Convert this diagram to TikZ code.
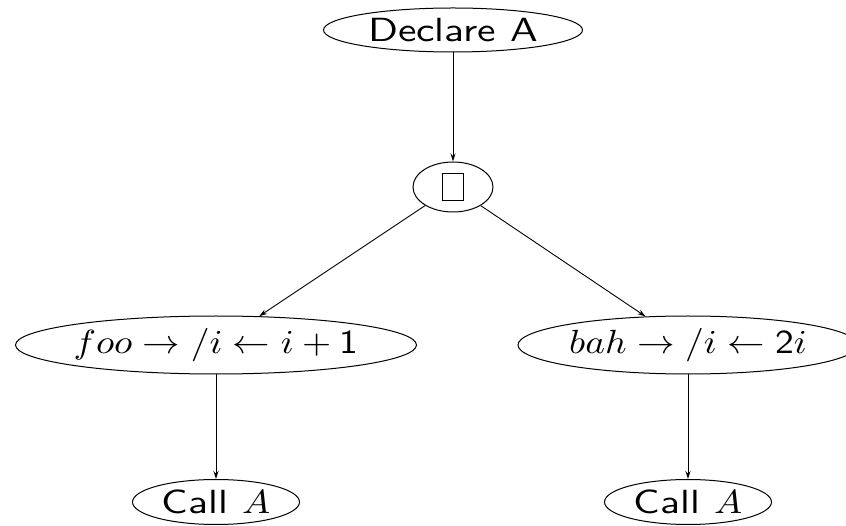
\documentclass[tikz,border=0pt]{standalone}
\usepackage{amsmath,amssymb}
\usepackage{graphicx}
\usetikzlibrary{shapes.geometric,arrows.meta}
\newcommand{\tofubox}{{\setlength{\fboxsep}{0pt}\setlength{\fboxrule}{1.3pt}\fbox{\rule{0pt}{26pt}\hspace{20pt}}}}
\newcommand{\sanspart}[1]{\scalebox{4.15}[3.35]{\sffamily #1}}
\newcommand{\mathpart}[1]{\scalebox{3.75}[3.35]{$#1$}}
\newcommand{\statetext}[1]{\makebox[0pt]{#1}}
\tikzset{
  state/.style={
    shape = ellipse,
    draw,
    line width = 1pt,
    inner sep = 0pt
  },
  flow/.style={
    -{Stealth[length=8pt,width=5pt]},
    line width = 0.9pt
  }
}
\begin{document}
\begin{tikzpicture}[x=1pt,y=-1pt]
            \useasboundingbox (0,0) rectangle (846,526);
            \clip (0,0) rectangle (846,526);
            \node[state, minimum width=259, minimum height=44] (decl) at (453,30) {\statetext{\sanspart{Declare A}}};
            \node[state, minimum width=80, minimum height=50] (choice) at (453,187) {\tofubox};
            \node[state, minimum width=401, minimum height=58] (foo) at (216,345) {\statetext{\mathpart{foo \rightarrow /i \leftarrow i \mathbin{\textsf{+}} \textsf{1}}}};
            \node[state, minimum width=340, minimum height=58] (bah) at (688,345) {\statetext{\mathpart{bah \rightarrow /i \leftarrow \textsf{2}i}}};
            \node[state, minimum width=167, minimum height=45] (callfoo) at (216,502) {\statetext{\sanspart{Call\ }\mathpart{A}}};
            \node[state, minimum width=167, minimum height=45] (callbah) at (688,502) {\statetext{\sanspart{Call\ }\mathpart{A}}};
            \draw[flow] (decl)--(choice);
            \draw[flow] (choice)--(foo);
            \draw[flow] (choice)--(bah);
            \draw[flow] (foo)--(callfoo);
            \draw[flow] (bah)--(callbah);
        \end{tikzpicture}
\end{document}
